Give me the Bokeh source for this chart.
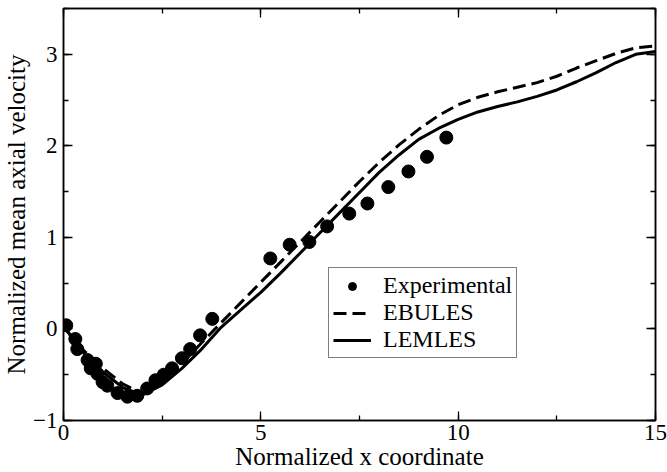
from bokeh.plotting import figure
from bokeh.models import (Legend, LegendItem, LinearAxis, SingleIntervalTicker,
                          Range1d, CustomLabelingPolicy)
from bokeh.embed import file_html
from bokeh.resources import INLINE

# ---- data ----
x_exp = [0.07, 0.30, 0.35, 0.61, 0.69, 0.82, 0.86, 0.99, 1.11, 1.37, 1.62, 1.87,
         2.12, 2.33, 2.54, 2.75, 3.00, 3.21, 3.46, 3.77, 5.24, 5.73, 6.23, 6.68,
         7.24, 7.70, 8.23, 8.74, 9.21, 9.70]
y_exp = [0.04, -0.11, -0.22, -0.34, -0.43, -0.38, -0.49, -0.58, -0.62, -0.70,
         -0.74, -0.73, -0.65, -0.56, -0.50, -0.43, -0.32, -0.22, -0.07, 0.11,
         0.77, 0.92, 0.95, 1.12, 1.26, 1.37, 1.55, 1.72, 1.88, 2.09]

x_sim = [0.05, 0.5, 1.0, 1.5, 2.0, 2.5, 3.0, 3.5, 4.0, 4.5, 5.0, 5.5, 6.0, 6.5,
         7.0, 7.5, 8.0, 8.5, 9.0, 9.5, 10.0, 10.5, 11.0, 11.5, 12.0, 12.5, 13.0,
         13.5, 14.0, 14.5, 15.0]
y_ebules = [0.0, -0.23, -0.43, -0.60, -0.71, -0.58, -0.38, -0.15, 0.07, 0.29,
            0.51, 0.73, 0.95, 1.17, 1.39, 1.61, 1.82, 2.01, 2.18, 2.33, 2.45,
            2.53, 2.59, 2.64, 2.69, 2.76, 2.85, 2.93, 3.01, 3.07, 3.09]
y_lemles = [0.0, -0.26, -0.47, -0.64, -0.72, -0.61, -0.43, -0.22, 0.02, 0.21,
            0.40, 0.61, 0.83, 1.05, 1.27, 1.49, 1.71, 1.90, 2.07, 2.19, 2.29,
            2.37, 2.43, 2.48, 2.54, 2.61, 2.70, 2.80, 2.91, 3.00, 3.03]

x_label = "Normalized x coordinate"
y_label = "Normalized mean axial velocity"
FONT = "Liberation Serif"

p = figure(width=667, height=472, output_backend="svg", toolbar_location=None,
           x_range=Range1d(0, 15), y_range=Range1d(-1, 3.5),
           min_border_left=63, min_border_right=12, min_border_top=8,
           min_border_bottom=52, background_fill_color="white",
           border_fill_color="white")
p.grid.visible = False
p.outline_line_color = "black"
p.outline_line_width = 1.5

no_labels = CustomLabelingPolicy(code="""
for (const i of Array.from(indices)) indices.unset(i)
return indices
""")

def style(ax, labels=True):
    ax.axis_line_color = "black"
    ax.axis_line_width = 1.5
    ax.major_tick_in = 9
    ax.major_tick_out = 0
    ax.minor_tick_in = 5
    ax.minor_tick_out = 0
    ax.major_tick_line_color = "black"
    ax.minor_tick_line_color = "black"
    ax.major_tick_line_width = 1.3
    ax.minor_tick_line_width = 1.3
    if labels:
        ax.major_label_text_font = FONT
        ax.major_label_text_font_size = "23px"
        ax.major_label_text_color = "black"
        ax.axis_label_text_font = FONT
        ax.axis_label_text_font_style = "normal"
        ax.axis_label_text_color = "black"
    else:
        ax.major_label_policy = no_labels
        ax.major_label_text_font_size = "1px"
        ax.major_label_standoff = 0

p.xaxis.ticker = SingleIntervalTicker(interval=5, num_minor_ticks=2)
p.yaxis.ticker = SingleIntervalTicker(interval=1, num_minor_ticks=2)
p.xaxis.axis_label = x_label
p.yaxis.axis_label = y_label
style(p.xaxis[0])
style(p.yaxis[0])
p.xaxis.axis_label_text_font_size = "25px"
p.yaxis.axis_label_text_font_size = "25px"
p.xaxis.major_label_standoff = 4
p.yaxis.major_label_standoff = 6
p.xaxis.axis_label_standoff = 0
p.yaxis.axis_label_standoff = 0

top = LinearAxis(ticker=SingleIntervalTicker(interval=5, num_minor_ticks=2))
right = LinearAxis(ticker=SingleIntervalTicker(interval=1, num_minor_ticks=2))
style(top, labels=False)
style(right, labels=False)
p.add_layout(top, "above")
p.add_layout(right, "right")

r_exp = p.scatter(x_exp, y_exp, size=13, color="black", marker="circle")
r_ebu = p.line(x_sim, y_ebules, line_color="black", line_width=3,
               line_dash="13 6")
r_lem = p.line(x_sim, y_lemles, line_color="black", line_width=3)

leg = Legend(items=[LegendItem(label="Experimental", renderers=[r_exp]),
                    LegendItem(label="EBULES", renderers=[r_ebu]),
                    LegendItem(label="LEMLES", renderers=[r_lem])],
             location=(265, 62))
leg.label_text_font = FONT
leg.label_text_font_size = "24px"
leg.label_text_color = "black"
leg.border_line_color = "black"
leg.border_line_width = 1.5
leg.glyph_width = 38
leg.glyph_height = 20
leg.label_height = 20
leg.spacing = -5
leg.padding = 4
leg.margin = 0
leg.label_standoff = 12
leg.background_fill_alpha = 1
p.add_layout(leg, "center")

open("out.html", "w").write(file_html(p, INLINE))
